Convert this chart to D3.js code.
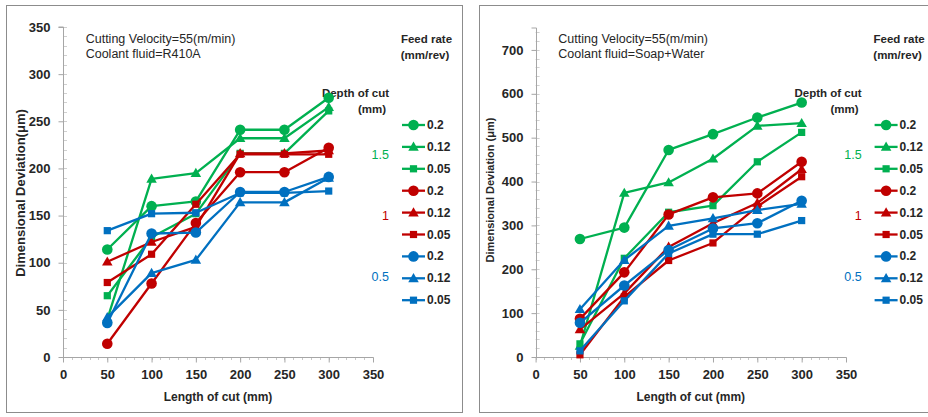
<!DOCTYPE html>
<html><head><meta charset="utf-8">
<script src="https://cdn.jsdelivr.net/npm/d3@7"></script>
<style>
html,body{margin:0;padding:0;background:#fff;}
svg{display:block;font-family:"Liberation Sans",Arial,sans-serif;}
</style></head>
<body>
<svg id="chart" width="928" height="417"></svg>
<script>
// ---------- data ----------
const lengths = [50, 100, 150, 200, 250, 300];
const feedRates = ["0.2", "0.12", "0.05"];
const depths = ["1.5", "1", "0.5"];
const depthColors = ["#00B050", "#C00000", "#0070C0"];
const markerShapes = ["circle", "triangle", "square"];

// R410A coolant (left panel) : rows = feed rate 0.2, 0.12, 0.05
const r410aDepth15 = [[114,160,165,241,241,275],[40,189,195,232,232,265],[65,127,152,216,216,261]];
const r410aDepth10 = [[14,78,142,196,196,222],[101,122,138,216,216,219],[79,109,162,215,215,215]];
const r410aDepth05 = [[36,131,132,175,175,191],[42,89,103,164,164,190],[134,152,153,174,174,176]];

// Soap + Water coolant (right panel)
const soapDepth15 = [[269,295,472,508,546,580],[25,374,398,452,527,533],[30,225,330,345,445,512]];
const soapDepth10 = [[87,193,325,364,373,445],[63,145,251,305,351,428],[5,137,220,260,343,411]];
const soapDepth05 = [[78,163,244,293,305,356],[109,221,299,316,335,349],[14,128,236,280,280,311]];

const xTicks = [0, 50, 100, 150, 200, 250, 300, 350];
const leftYTicks = [0, 50, 100, 150, 200, 250, 300, 350];
const rightYTicks = [0, 100, 200, 300, 400, 500, 600, 700];

const panels = [
  { frame:[6,5,456,407], x0:63, x1:373, y0:357, y1:27, yMax:350, yTicks:leftYTicks, yMinor:10,
    yTitle:"Dimensional Deviation(μm)", yTitleSize:13, yTitleDx:-43, yTitleY:193,
    line2:"Coolant fluid=R410A", data:[r410aDepth15, r410aDepth10, r410aDepth05] },
  { frame:[479,5,460,407], x0:535.6, x1:846, y0:357, y1:28, yMax:750, yTicks:rightYTicks, yMinor:20,
    yTitle:"Dimensional Deviation (μm)", yTitleSize:11, yTitleDx:-45.6, yTitleY:190,
    line2:"Coolant fluid=Soap+Water", data:[soapDepth15, soapDepth10, soapDepth05] }
];

const svg = d3.select("#chart");
const textColor = "#262626";
const axisColor = "#A6A6A6";

function drawMarker(g, shape, x, y, color) {
  if (shape === "circle") {
    g.append("circle").attr("cx", x).attr("cy", y).attr("r", 5.3).attr("fill", color);
  } else if (shape === "triangle") {
    g.append("path").attr("d", d3.symbol().type(d3.symbolTriangle).size(48)())
      .attr("transform", `translate(${x},${y + 0.8})`).attr("fill", color);
  } else {
    g.append("rect").attr("x", x - 3.6).attr("y", y - 3.6).attr("width", 7.2).attr("height", 7.2).attr("fill", color);
  }
}

panels.forEach(p => {
  const g = svg.append("g");
  // frame
  g.append("rect").attr("x", p.frame[0] + 0.5).attr("y", p.frame[1] + 0.5)
    .attr("width", p.frame[2]).attr("height", p.frame[3])
    .attr("fill", "none").attr("stroke", "#8C8C8C").attr("stroke-width", 1);

  const x = d3.scaleLinear().domain([0, 350]).range([p.x0, p.x1]);
  const y = d3.scaleLinear().domain([0, p.yMax]).range([p.y0, p.y1]);

  // minor ticks
  const yMinorVals = d3.range(0, p.yMax + 0.001, p.yMinor);
  g.append("g").selectAll("line").data(yMinorVals).join("line")
    .attr("x1", p.x0).attr("x2", p.x0 + 4)
    .attr("y1", d => Math.round(y(d)) + 0.5).attr("y2", d => Math.round(y(d)) + 0.5)
    .attr("stroke", "#D0D0D0");
  g.append("g").selectAll("line").data(d3.range(0, 350.001, 10)).join("line")
    .attr("x1", d => Math.round(x(d)) + 0.5).attr("x2", d => Math.round(x(d)) + 0.5)
    .attr("y1", p.y0).attr("y2", p.y0 + 3)
    .attr("stroke", "#C8C8C8");

  // y axis
  const yAxis = d3.axisLeft(y).tickValues(p.yTicks).tickSize(5).tickPadding(8).tickFormat(d3.format("d"));
  const ya = g.append("g").attr("transform", `translate(${Math.round(p.x0) + 0.5},0)`).call(yAxis);
  ya.select(".domain").attr("stroke", axisColor).attr("d", `M-5,${y(p.yMax)}H0V${p.y0}`);
  ya.selectAll(".tick line").attr("stroke", axisColor);
  ya.selectAll(".tick text").attr("fill", textColor).style("font-size", "13px").style("font-weight", "bold")
    .style("font-family", "Liberation Sans, Arial, sans-serif");

  // x axis
  const xAxis = d3.axisBottom(x).tickValues(xTicks).tickSize(5).tickPadding(7).tickFormat(d3.format("d"));
  const xa = g.append("g").attr("transform", `translate(0,${Math.round(p.y0) + 0.5})`).call(xAxis);
  xa.select(".domain").attr("stroke", axisColor).attr("d", `M${p.x0},0H${p.x1}`);
  xa.selectAll(".tick line").attr("stroke", axisColor);
  xa.selectAll(".tick text").attr("fill", textColor).style("font-size", "13px").style("font-weight", "bold")
    .style("font-family", "Liberation Sans, Arial, sans-serif");

  // axis titles
  g.append("text").attr("x", (p.x0 + p.x1) / 2).attr("y", 401)
    .attr("text-anchor", "middle").attr("fill", textColor)
    .style("font-size", "12px").style("font-weight", "bold").text("Length of cut (mm)");
  g.append("text").attr("transform", `translate(${p.x0 + p.yTitleDx},${p.yTitleY}) rotate(-90)`)
    .attr("text-anchor", "middle").attr("dominant-baseline", "central").attr("fill", textColor)
    .style("font-size", p.yTitleSize + "px").style("font-weight", "bold").text(p.yTitle);

  // annotations
  g.append("text").attr("x", p.x0 + 22.7).attr("y", 42.5).attr("fill", textColor)
    .style("font-size", "12.5px").text("Cutting Velocity=55(m/min)");
  g.append("text").attr("x", p.x0 + 22.7).attr("y", 58).attr("fill", textColor)
    .style("font-size", "12.5px").text(p.line2);
  g.append("text").attr("x", p.x0 + 363.5).attr("y", 42.5).attr("text-anchor", "middle").attr("fill", textColor)
    .style("font-size", "11.5px").style("font-weight", "bold").text("Feed rate");
  g.append("text").attr("x", p.x0 + 362).attr("y", 58.5).attr("text-anchor", "middle").attr("fill", textColor)
    .style("font-size", "11.5px").style("font-weight", "bold").text("(mm/rev)");
  g.append("text").attr("x", p.x0 + 326).attr("y", 96.5).attr("text-anchor", "end").attr("fill", textColor)
    .style("font-size", "11.5px").style("font-weight", "bold").text("Depth of cut");
  g.append("text").attr("x", p.x0 + 323).attr("y", 112.5).attr("text-anchor", "end").attr("fill", textColor)
    .style("font-size", "11.5px").style("font-weight", "bold").text("(mm)");

  // series
  const line = d3.line().x((d, i) => x(lengths[i])).y(d => y(d));
  p.data.forEach((depthRows, di) => {
    depthRows.forEach((vals, fi) => {
      const color = depthColors[di];
      const sg = g.append("g");
      sg.append("path").attr("d", line(vals)).attr("fill", "none")
        .attr("stroke", color).attr("stroke-width", 2.3).attr("stroke-linejoin", "round");
      vals.forEach((v, i) => drawMarker(sg, markerShapes[fi], x(lengths[i]), y(v), color));
    });
  });

  // legend
  depths.forEach((dep, di) => {
    feedRates.forEach((fr, fi) => {
      const idx = di * 3 + fi;
      const ly = 125 + idx * 21.9;
      const color = depthColors[di];
      const lg = g.append("g");
      lg.append("line").attr("x1", p.x0 + 339).attr("x2", p.x0 + 362).attr("y1", ly).attr("y2", ly)
        .attr("stroke", color).attr("stroke-width", 2.3);
      drawMarker(lg, markerShapes[fi], p.x0 + 350.5, ly, color);
      lg.append("text").attr("x", p.x0 + 364).attr("y", ly).attr("dominant-baseline", "central")
        .attr("fill", textColor).style("font-size", "12px").style("font-weight", "bold").text(fr);
    });
    g.append("text").attr("x", p.x0 + 326).attr("y", 155 + di * 61)
      .attr("text-anchor", "end").attr("dominant-baseline", "central").attr("fill", depthColors[di])
      .style("font-size", "12.5px").text(dep);
  });
});
</script>
</body></html>
